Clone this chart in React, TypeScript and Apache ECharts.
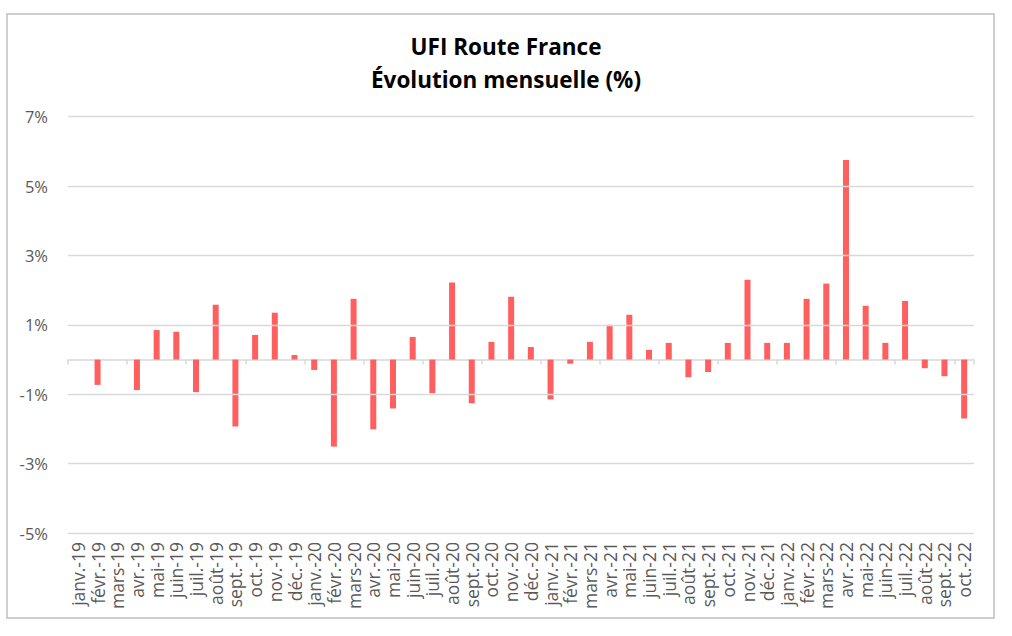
import React, { useEffect, useRef } from "react";
import * as echarts from "echarts";

const categories = [
  "janv.-19", "févr.-19", "mars-19", "avr.-19", "mai-19", "juin-19", "juil.-19", "août-19", "sept.-19", "oct.-19", "nov.-19", "déc.-19",
  "janv.-20", "févr.-20", "mars-20", "avr.-20", "mai-20", "juin-20", "juil.-20", "août-20", "sept.-20", "oct.-20", "nov.-20", "déc.-20",
  "janv.-21", "févr.-21", "mars-21", "avr.-21", "mai-21", "juin-21", "juil.-21", "août-21", "sept.-21", "oct.-21", "nov.-21", "déc.-21",
  "janv.-22", "févr.-22", "mars-22", "avr.-22", "mai-22", "juin-22", "juil.-22", "août-22", "sept.-22", "oct.-22",
];

const values = [
  0, -0.73, 0, -0.88, 0.85, 0.8, -0.94, 1.58, -1.93, 0.71, 1.35, 0.13,
  -0.3, -2.51, 1.75, -2.01, -1.41, 0.65, -0.97, 2.22, -1.26, 0.51, 1.81, 0.36,
  -1.15, -0.12, 0.51, 1.0, 1.29, 0.28, 0.48, -0.51, -0.36, 0.48, 2.3, 0.48,
  0.48, 1.75, 2.19, 5.75, 1.55, 0.48, 1.69, -0.25, -0.48, -1.7,
];

const gridValues = [-5, -3, -1, 1, 3, 5, 7];
const titleLines = ["UFI Route France", "Évolution mensuelle (%)"];

export default function App() {
  const ref = useRef<HTMLDivElement>(null);
  useEffect(() => {
    if (!ref.current) return;
    const chart = echarts.init(ref.current, undefined, { renderer: "svg" });
    const font = "'Open Sans', 'Noto Sans', sans-serif";
    chart.setOption({
      animation: false,
      backgroundColor: "#ffffff",
      title: {
        text: titleLines.join("\n"),
        left: "center",
        top: 25,
        textStyle: {
          fontFamily: font,
          fontWeight: "bold",
          fontSize: 22.5,
          lineHeight: 33,
          color: "#000000",
        },
      },
      graphic: [
        {
          type: "rect",
          shape: { x: 7, y: 14, width: 987, height: 604 },
          style: { fill: "none", stroke: "#BFBFBF", lineWidth: 1.5 },
          silent: true,
          z: -1,
        },
      ],
      grid: { left: 68, right: 38, top: 116.7, bottom: 103, containLabel: false },
      xAxis: [
        {
          type: "category",
          data: categories,
          position: "bottom",
          axisLine: { show: false, onZero: false },
          axisTick: { show: false },
          axisLabel: {
            rotate: 90,
            interval: 0,
            margin: 9,
            fontFamily: font,
            fontSize: 17.5,
            color: "#595959",
          },
        },
        {
          type: "category",
          data: categories,
          position: "bottom",
          axisLine: { show: true, onZero: true, lineStyle: { color: "#D9D9D9", width: 1.5 } },
          axisTick: { show: true, length: 5, lineStyle: { color: "#D9D9D9", width: 1.5 } },
          axisLabel: { show: false },
        },
      ],
      yAxis: {
        type: "value",
        min: -5,
        max: 7,
        interval: 1,
        axisLine: { show: false },
        axisTick: { show: false },
        splitLine: { show: false },
        axisLabel: {
          margin: 20,
          fontFamily: font,
          fontSize: 16.5,
          color: "#595959",
          formatter: (v: number) => (Math.round(v) % 2 !== 0 ? `${Math.round(v)}%` : ""),
        },
      },
      series: [
        {
          type: "line",
          data: [],
          z: 1,
          silent: true,
          markLine: {
            silent: true,
            symbol: "none",
            label: { show: false },
            lineStyle: { color: "#D9D9D9", width: 1.3, type: "solid" },
            data: gridValues.map((v) => ({ yAxis: v })),
          },
        },
        {
          type: "bar",
          data: values,
          xAxisIndex: 0,
          barWidth: 6,
          z: 3,
          itemStyle: { color: "#FF5F5F" },
        },
      ],
    });
    return () => chart.dispose();
  }, []);
  return (
    <div
      ref={ref}
      style={{ position: "absolute", left: 0, top: 0, width: 1012, height: 636 }}
    />
  );
}
